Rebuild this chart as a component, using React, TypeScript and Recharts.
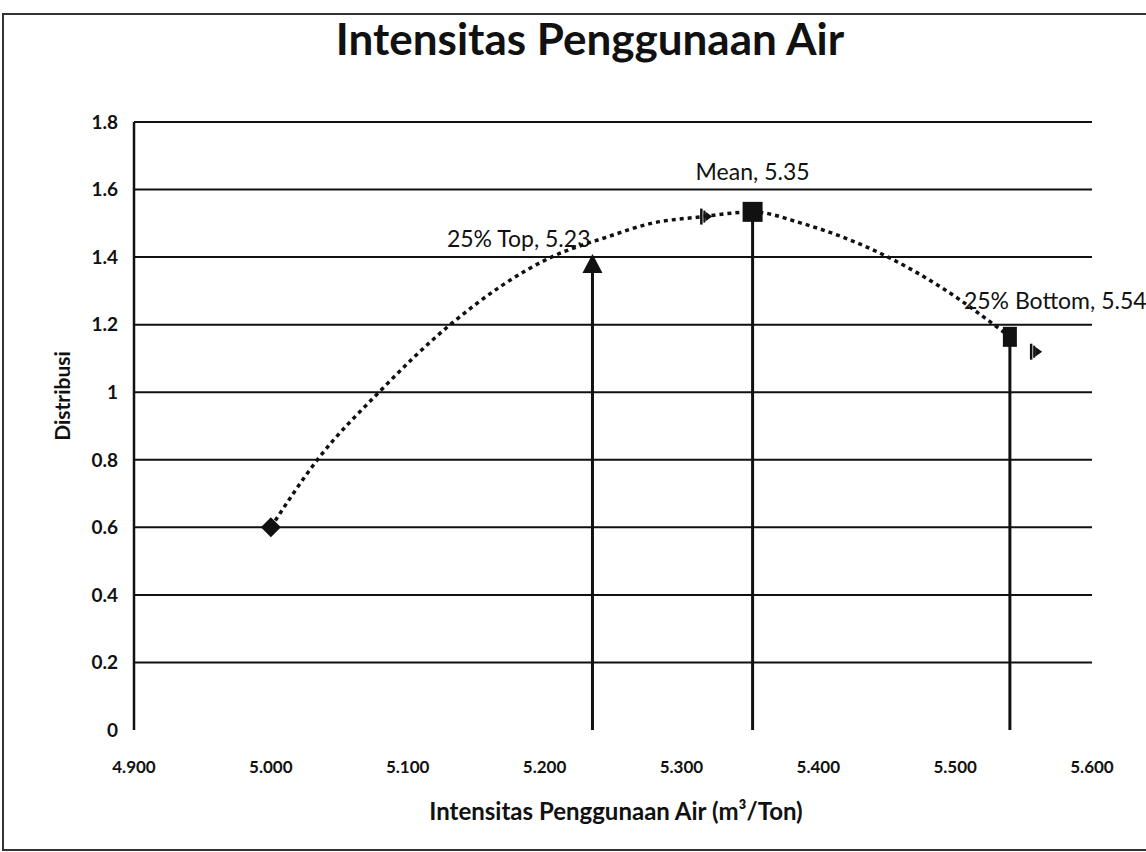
import { ComposedChart, Line, Scatter, XAxis, YAxis, ReferenceLine } from "recharts"

// dotted distribution curve
const curveX = [5.0, 5.034, 5.079, 5.131, 5.205, 5.246, 5.278, 5.316, 5.352, 5.388, 5.451, 5.49, 5.54]
const curveY = [0.6, 0.8, 1.0, 1.2, 1.4, 1.46, 1.5, 1.52, 1.534, 1.5, 1.4, 1.31, 1.164]

// marked points
const pointX = [5.0, 5.235, 5.352, 5.54]
const pointY = [0.6, 1.377, 1.534, 1.164]
const pointLabels = ["", "25% Top, 5.23", "Mean, 5.35", "25% Bottom, 5.54"]
const pointKinds = ["diamond", "triangle", "square", "narrow"]

// the small arrow-like marks next to the curve
const arrowX = [5.316, 5.557]
const arrowY = [1.52, 1.12]

const xTicks = [4.9, 5.0, 5.1, 5.2, 5.3, 5.4, 5.5, 5.6]
const yTicks = [0, 0.2, 0.4, 0.6, 0.8, 1, 1.2, 1.4, 1.6, 1.8]

const FONT = "Lato, 'Open Sans', sans-serif"
const INK = "#111"

const curve = curveX.map((x, i) => ({ x, y: curveY[i] }))
const points = pointX.map((x, i) => ({ x, y: pointY[i], label: pointLabels[i], kind: pointKinds[i] }))
const arrows = arrowX.map((x, i) => ({ x, y: arrowY[i] }))

function PointShape(props: any) {
  const { cx, cy, payload } = props
  if (cx == null || cy == null) return null
  let mark = null
  let text = null
  const textStyle = { fontFamily: FONT, fontSize: 23, fill: INK }
  if (payload.kind === "diamond") {
    mark = <polygon points={`${cx},${cy - 10} ${cx + 10},${cy} ${cx},${cy + 10} ${cx - 10},${cy}`} fill={INK} />
  } else if (payload.kind === "triangle") {
    mark = <polygon points={`${cx},${cy - 11} ${cx + 10},${cy + 8} ${cx - 10},${cy + 8}`} fill={INK} />
    text = (
      <text x={cx - 2} y={cy - 18} textAnchor="end" style={textStyle}>
        {payload.label}
      </text>
    )
  } else if (payload.kind === "square") {
    mark = <rect x={cx - 10} y={cy - 10} width={20} height={20} fill={INK} />
    text = (
      <text x={cx} y={cy - 32} textAnchor="middle" style={textStyle}>
        {payload.label}
      </text>
    )
  } else {
    mark = <rect x={cx - 7} y={cy - 10} width={14} height={20} fill={INK} />
    text = (
      <text x={cx - 46} y={cy - 28} textAnchor="start" style={textStyle}>
        {payload.label}
      </text>
    )
  }
  return (
    <g>
      {mark}
      {text}
    </g>
  )
}

function ArrowShape(props: any) {
  const { cx, cy } = props
  if (cx == null || cy == null) return null
  return (
    <g fill={INK} stroke={INK}>
      <line x1={cx - 2} y1={cy - 8} x2={cx - 2} y2={cy + 8} strokeWidth={2.5} />
      <line x1={cx + 1} y1={cy - 6} x2={cx + 1} y2={cy + 6} strokeWidth={2} />
      <polygon points={`${cx + 2},${cy - 5} ${cx + 9},${cy} ${cx + 2},${cy + 5}`} stroke="none" />
    </g>
  )
}

const fmtX = (v: number) => v.toFixed(3)
const fmtY = (v: number) => String(Math.round(v * 10) / 10)

export default function App() {
  return (
    <div style={{ position: "fixed", left: 0, top: 0, width: 1146, height: 852, background: "#fff", overflow: "hidden" }}>
      <div
        style={{
          position: "absolute",
          left: 2,
          top: 13,
          width: 1160,
          height: 834,
          borderLeft: "2px solid #333",
          borderTop: "2px solid #333",
          borderBottom: "2px solid #333",
        }}
      />
      <div
        style={{
          position: "absolute",
          left: 0,
          top: 12,
          width: 1180,
          textAlign: "center",
          fontFamily: FONT,
          fontWeight: 700,
          fontSize: 44,
          color: INK,
        }}
      >
        Intensitas Penggunaan Air
      </div>
      <div style={{ position: "absolute", left: 0, top: 0 }}>
        <ComposedChart width={1146} height={852} margin={{ top: 122, right: 54, bottom: 82, left: 74 }}>
          <XAxis
            type="number"
            dataKey="x"
            domain={[4.9, 5.6]}
            ticks={xTicks}
            tickFormatter={fmtX}
            axisLine={false}
            tickLine={false}
            tickSize={0}
            tickMargin={31}
            height={40}
            interval={0}
            tick={{ fontFamily: FONT, fontSize: 17, fontWeight: 700, fill: INK }}
          />
          <YAxis
            type="number"
            dataKey="y"
            domain={[0, 1.8]}
            ticks={yTicks}
            tickFormatter={fmtY}
            axisLine={{ stroke: INK, strokeWidth: 2.5 }}
            tickLine={false}
            tickSize={0}
            tickMargin={16}
            width={60}
            interval={0}
            tick={{ fontFamily: FONT, fontSize: 19, fontWeight: 700, fill: INK }}
          />
          {yTicks
            .filter((v) => v > 0)
            .map((v) => (
              <ReferenceLine key={v} y={v} stroke={INK} strokeWidth={2} />
            ))}
          {points
            .filter((p) => p.label !== "")
            .map((p) => (
              <ReferenceLine
                key={p.label}
                segment={[
                  { x: p.x, y: 0 },
                  { x: p.x, y: p.y },
                ]}
                stroke={INK}
                strokeWidth={3}
              />
            ))}
          <Line
            data={curve}
            dataKey="y"
            type="monotone"
            stroke={INK}
            strokeWidth={3.5}
            strokeDasharray="4 4"
            dot={false}
            activeDot={false}
            isAnimationActive={false}
          />
          <Scatter data={arrows} dataKey="y" shape={<ArrowShape />} isAnimationActive={false} />
          <Scatter data={points} dataKey="y" shape={<PointShape />} isAnimationActive={false} />
        </ComposedChart>
      </div>
      <div
        style={{
          position: "absolute",
          left: 61,
          top: 396,
          transform: "translate(-50%, -50%) rotate(-90deg)",
          fontFamily: FONT,
          fontWeight: 700,
          fontSize: 21,
          color: INK,
          whiteSpace: "nowrap",
        }}
      >
        Distribusi
      </div>
      <div
        style={{
          position: "absolute",
          left: 616,
          top: 810,
          transform: "translate(-50%, -50%)",
          fontFamily: FONT,
          fontWeight: 700,
          fontSize: 24,
          color: INK,
          whiteSpace: "nowrap",
        }}
      >
        Intensitas Penggunaan Air (m³/Ton)
      </div>
    </div>
  )
}
